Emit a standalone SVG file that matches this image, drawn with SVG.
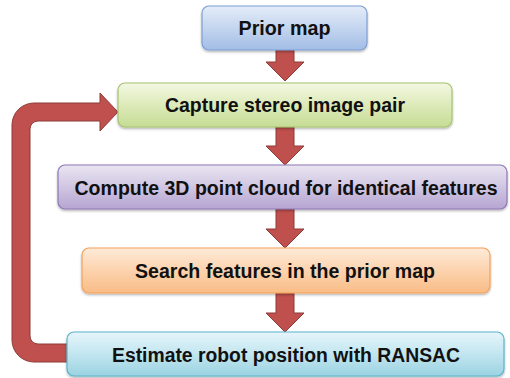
<svg xmlns="http://www.w3.org/2000/svg" width="510" height="378" viewBox="0 0 510 378">
<defs>
<linearGradient id="gBlue" x1="0" y1="0" x2="0" y2="1"><stop offset="0" stop-color="#E4ECF8"/><stop offset="0.5" stop-color="#C4D5EF"/><stop offset="1" stop-color="#A3BDE5"/></linearGradient>
<linearGradient id="gGreen" x1="0" y1="0" x2="0" y2="1"><stop offset="0" stop-color="#F3F8E3"/><stop offset="0.5" stop-color="#DDEAB9"/><stop offset="1" stop-color="#C6DC95"/></linearGradient>
<linearGradient id="gPurple" x1="0" y1="0" x2="0" y2="1"><stop offset="0" stop-color="#EAE5F2"/><stop offset="0.5" stop-color="#D0C6E2"/><stop offset="1" stop-color="#B5A5D1"/></linearGradient>
<linearGradient id="gOrange" x1="0" y1="0" x2="0" y2="1"><stop offset="0" stop-color="#FEEBD9"/><stop offset="0.5" stop-color="#FCD3AE"/><stop offset="1" stop-color="#F9BC86"/></linearGradient>
<linearGradient id="gCyan" x1="0" y1="0" x2="0" y2="1"><stop offset="0" stop-color="#E6F5FA"/><stop offset="0.5" stop-color="#C2E6F0"/><stop offset="1" stop-color="#9BD2E2"/></linearGradient>
<filter id="sh" x="-5%" y="-20%" width="110%" height="150%"><feDropShadow dx="0" dy="1.5" stdDeviation="1.2" flood-color="#000" flood-opacity="0.3"/></filter>
</defs>
<style>
.box{stroke-width:1.2;filter:url(#sh)}
.lbl{font-family:"Liberation Sans",Arial,sans-serif;font-weight:bold;font-size:20px;fill:#111;text-anchor:middle}
.arr{fill:#C0504D;stroke:#8D3B38;stroke-width:1}
</style>
<g id="connectors">
<path class="arr" d="M276 50 L294 50 L294 62 L304 62 L285 81 L266 62 L276 62 Z"/>
<path class="arr" d="M276 127 L294 127 L294 146 L304 146 L285 165 L266 146 L276 146 Z"/>
<path class="arr" d="M276 209 L294 209 L294 229 L304 229 L285 248 L266 229 L276 229 Z"/>
<path class="arr" d="M276 293 L294 293 L294 313 L304 313 L285 332 L266 313 L276 313 Z"/>
<path class="arr" d="M100 103 L34 103 A22 22 0 0 0 12 125 L12 340 A22 22 0 0 0 34 362 L70 362 L70 344 L38 344 A8 8 0 0 1 30 336 L30 129 A8 8 0 0 1 38 121 L100 121 L100 131 L118 112 L100 93 Z"/>
</g>
<g id="prior-map">
<rect class="box" x="202" y="6" width="165" height="44" rx="7" fill="url(#gBlue)" stroke="#7E9FD3"/>
<text class="lbl" x="284.5" y="35" textLength="92" lengthAdjust="spacingAndGlyphs">Prior map</text>
</g>
<g id="capture">
<rect class="box" x="118" y="83" width="334" height="44" rx="7" fill="url(#gGreen)" stroke="#A6C46E"/>
<text class="lbl" x="285" y="112" textLength="240" lengthAdjust="spacingAndGlyphs">Capture stereo image pair</text>
</g>
<g id="compute">
<rect class="box" x="58" y="165" width="449" height="44" rx="7" fill="url(#gPurple)" stroke="#8F78B3"/>
<text class="lbl" x="286" y="195" textLength="423" lengthAdjust="spacingAndGlyphs">Compute 3D point cloud for identical features</text>
</g>
<g id="search">
<rect class="box" x="82" y="248" width="408" height="45" rx="7" fill="url(#gOrange)" stroke="#F5A15B"/>
<text class="lbl" x="285" y="278" textLength="300" lengthAdjust="spacingAndGlyphs">Search features in the prior map</text>
</g>
<g id="estimate">
<rect class="box" x="67" y="332" width="437" height="44" rx="7" fill="url(#gCyan)" stroke="#5BB3CB"/>
<text class="lbl" x="286" y="362" textLength="348" lengthAdjust="spacingAndGlyphs">Estimate robot position with RANSAC</text>
</g>
</svg>
